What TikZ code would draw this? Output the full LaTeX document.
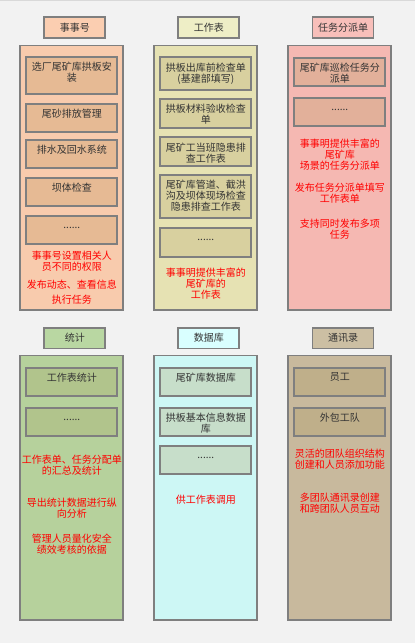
\documentclass[tikz,border=0pt]{standalone}
\usepackage{fontspec}
\setmainfont{Noto Sans CJK SC}
\definecolor{bgc}{HTML}{F2F2F2}
\definecolor{bd}{HTML}{7F7F7F}
\definecolor{tc}{HTML}{333333}
\definecolor{rc}{HTML}{FF0000}
\definecolor{aC}{HTML}{F8CBAD}\definecolor{aT}{HTML}{FBCEB1}\definecolor{aI}{HTML}{E6BA94}
\definecolor{bC}{HTML}{E6E2B3}\definecolor{bT}{HTML}{EEEEC6}\definecolor{bI}{HTML}{D8D09F}
\definecolor{cC}{HTML}{F5B8B2}\definecolor{cT}{HTML}{F8BFBA}\definecolor{cI}{HTML}{E2B09A}
\definecolor{dC}{HTML}{B6D19C}\definecolor{dT}{HTML}{B9D7A2}\definecolor{dI}{HTML}{B1C48C}
\definecolor{eC}{HTML}{CDF7F5}\definecolor{eT}{HTML}{D9FFFF}\definecolor{eI}{HTML}{C7DECA}
\definecolor{fC}{HTML}{C8B99D}\definecolor{fT}{HTML}{CCBFA3}\definecolor{fI}{HTML}{BFAF8A}
\newcommand\ibt[2]{\parbox[c][#1pt][t]{89pt}{\centering\vspace*{4.2pt}\leavevmode\vphantom{国}#2\par}}
\tikzset{
  every node/.style={font=\fontsize{10pt}{11pt}\selectfont},
  boxbase/.style={draw=bd, line width=1.8pt, inner sep=0pt, text=tc},
  contbox/.style={boxbase, minimum width=103pt, minimum height=264.5pt},
  titlebox/.style={boxbase, minimum width=61pt, minimum height=20.8pt},
  innerbox/.style={boxbase, minimum width=91pt},
  redtext/.style={text=rc, inner sep=0pt, align=center}
}
\begin{document}
\begin{tikzpicture}[x=1pt,y=-1pt]
\useasboundingbox (0,0) rectangle (415,643);
\fill[bgc] (0,0) rectangle (415,643);
\draw[line width=1pt, draw=black!15] (0,0.5) -- (415,0.5);

% ---------- column 1: 事事号 ----------
\node[titlebox, fill=aT] (t1) at (74.8,27.6) {事事号};
\node[contbox, fill=aC] (k1) at (71.8,177.8) {};
\node[innerbox, fill=aI, minimum height=37pt] (a1) at (71.8,75.8) {\ibt{35}{选厂尾矿库拱板安\\装}};
\node[innerbox, fill=aI, minimum height=28.6pt] (a2) at (71.8,118) {\ibt{26.6}{尾砂排放管理}};
\node[innerbox, fill=aI, minimum height=28.6pt] (a3) at (71.8,153.9) {\ibt{26.6}{排水及回水系统}};
\node[innerbox, fill=aI, minimum height=28.6pt] (a4) at (71.8,192) {\ibt{26.6}{坝体检查}};
\node[innerbox, fill=aI, minimum height=28.6pt] (a5) at (71.8,230) {\ibt{26.6}{......}};
\node[redtext] (ra1) at (71.8,261.5) {事事号设置相关人\\员不同的权限};
\node[redtext] (ra2) at (71.8,284.3) {发布动态、查看信息};
\node[redtext] (ra3) at (71.8,300) {执行任务};

% ---------- column 2: 工作表 ----------
\node[titlebox, fill=bT] (t2) at (208.8,27.6) {工作表};
\node[contbox, fill=bC] (k2) at (205.8,177.8) {};
\node[innerbox, fill=bI, minimum height=32.7pt] (b1) at (205.8,73.7) {\ibt{30.7}{拱板出库前检查单\\(基建部填写)}};
\node[innerbox, fill=bI, minimum height=29pt] (b2) at (205.8,113.8) {\ibt{27}{拱板材料验收检查\\单}};
\node[innerbox, fill=bI, minimum height=28.7pt] (b3) at (205.8,151.7) {\ibt{26.7}{尾矿工当班隐患排\\查工作表}};
\node[innerbox, fill=bI, minimum height=43pt] (b4) at (205.8,196.8) {\ibt{41}{尾矿库管道、截洪\\沟及坝体现场检查\\隐患排查工作表}};
\node[innerbox, fill=bI, minimum height=29pt] (b5) at (205.8,242.2) {\ibt{27}{......}};
\node[redtext] (rb1) at (205.8,283.5) {事事明提供丰富的\\尾矿库的\\工作表};

% ---------- column 3: 任务分派单 ----------
\node[titlebox, fill=cT] (t3) at (343,27.6) {任务分派单};
\node[contbox, fill=cC] (k3) at (339.8,177.8) {};
\node[innerbox, fill=cI, minimum height=28.3pt] (c1) at (339.8,71.8) {\ibt{26.3}{尾矿库巡检任务分\\派单}};
\node[innerbox, fill=cI, minimum height=28.3pt] (c2) at (339.8,111.8) {\ibt{26.3}{......}};
\node[redtext] (rc1) at (339.8,155) {事事明提供丰富的\\尾矿库\\场景的任务分派单};
\node[redtext] (rc2) at (339.8,193) {发布任务分派单填写\\工作表单};
\node[redtext] (rc3) at (339.8,229) {支持同时发布多项\\任务};

% ---------- column 4: 统计 ----------
\node[titlebox, fill=dT] (t4) at (74.8,338) {统计};
\node[contbox, fill=dC] (k4) at (71.8,487.7) {};
\node[innerbox, fill=dI, minimum height=28.6pt] (d1) at (71.8,382) {\ibt{26.6}{工作表统计}};
\node[innerbox, fill=dI, minimum height=28.6pt] (d2) at (71.8,422) {\ibt{26.6}{......}};
\node[redtext] (rd1) at (71.8,465.5) {工作表单、任务分配单\\的汇总及统计};
\node[redtext] (rd2) at (71.8,508.5) {导出统计数据进行纵\\向分析};
\node[redtext] (rd3) at (71.8,544.5) {管理人员量化安全\\绩效考核的依据};

% ---------- column 5: 数据库 ----------
\node[titlebox, fill=eT] (t5) at (208.8,338) {数据库};
\node[contbox, fill=eC] (k5) at (205.8,487.7) {};
\node[innerbox, fill=eI, minimum height=28.6pt] (e1) at (205.8,382) {\ibt{26.6}{尾矿库数据库}};
\node[innerbox, fill=eI, minimum height=28.6pt] (e2) at (205.8,422) {\ibt{26.6}{拱板基本信息数据\\库}};
\node[innerbox, fill=eI, minimum height=28.6pt] (e3) at (205.8,460) {\ibt{26.6}{......}};
\node[redtext] (re1) at (205.8,499.3) {供工作表调用};

% ---------- column 6: 通讯录 ----------
\node[titlebox, fill=fT] (t6) at (343,338) {通讯录};
\node[contbox, fill=fC] (k6) at (339.8,487.7) {};
\node[innerbox, fill=fI, minimum height=28.6pt] (f1) at (339.8,382) {\ibt{26.6}{员工}};
\node[innerbox, fill=fI, minimum height=28.6pt] (f2) at (339.8,422) {\ibt{26.6}{外包工队}};
\node[redtext] (rf1) at (339.8,459.5) {灵活的团队组织结构\\创建和人员添加功能};
\node[redtext] (rf2) at (339.8,503.5) {多团队通讯录创建\\和跨团队人员互动};
\end{tikzpicture}
\end{document}
